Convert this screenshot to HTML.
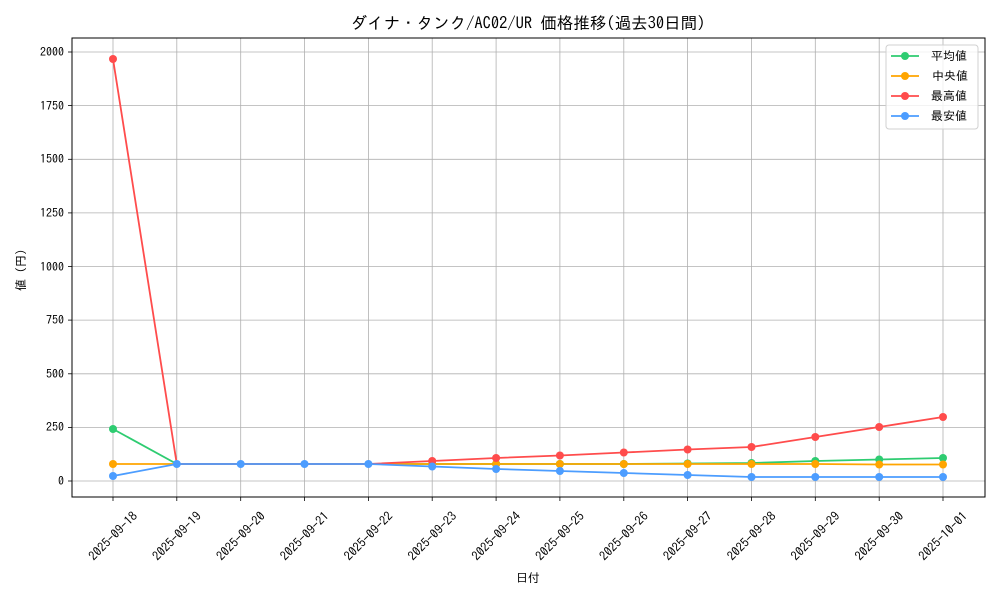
<!DOCTYPE html><html><head><meta charset="utf-8"><style>body{margin:0;background:#fff}svg text{font-family:"IPAGothic","Noto Sans CJK JP",sans-serif;fill:#000}</style></head><body>
<svg width="1000" height="600" xmlns="http://www.w3.org/2000/svg">
<rect width="1000" height="600" fill="#fff"/>
<g stroke="#b0b0b0" stroke-width="0.8">
<line x1="72" x2="985" y1="481" y2="481"/><line x1="72" x2="985" y1="427.4" y2="427.4"/><line x1="72" x2="985" y1="373.8" y2="373.8"/><line x1="72" x2="985" y1="320.1" y2="320.1"/><line x1="72" x2="985" y1="266.5" y2="266.5"/><line x1="72" x2="985" y1="212.9" y2="212.9"/><line x1="72" x2="985" y1="159.3" y2="159.3"/><line x1="72" x2="985" y1="105.6" y2="105.6"/><line x1="72" x2="985" y1="52" y2="52"/>
<line x1="113" x2="113" y1="38" y2="497"/><line x1="176.8" x2="176.8" y1="38" y2="497"/><line x1="240.7" x2="240.7" y1="38" y2="497"/><line x1="304.5" x2="304.5" y1="38" y2="497"/><line x1="368.4" x2="368.4" y1="38" y2="497"/><line x1="432.2" x2="432.2" y1="38" y2="497"/><line x1="496.1" x2="496.1" y1="38" y2="497"/><line x1="559.9" x2="559.9" y1="38" y2="497"/><line x1="623.8" x2="623.8" y1="38" y2="497"/><line x1="687.6" x2="687.6" y1="38" y2="497"/><line x1="751.5" x2="751.5" y1="38" y2="497"/><line x1="815.3" x2="815.3" y1="38" y2="497"/><line x1="879.2" x2="879.2" y1="38" y2="497"/><line x1="943" x2="943" y1="38" y2="497"/>
</g>
<rect x="72" y="38" width="913" height="459" fill="none" stroke="#000" stroke-width="1"/>
<g stroke="#000" stroke-width="0.8">
<line x1="68" x2="72" y1="481" y2="481"/><line x1="68" x2="72" y1="427.4" y2="427.4"/><line x1="68" x2="72" y1="373.8" y2="373.8"/><line x1="68" x2="72" y1="320.1" y2="320.1"/><line x1="68" x2="72" y1="266.5" y2="266.5"/><line x1="68" x2="72" y1="212.9" y2="212.9"/><line x1="68" x2="72" y1="159.3" y2="159.3"/><line x1="68" x2="72" y1="105.6" y2="105.6"/><line x1="68" x2="72" y1="52" y2="52"/>
<line x1="113" x2="113" y1="497" y2="501"/><line x1="176.8" x2="176.8" y1="497" y2="501"/><line x1="240.7" x2="240.7" y1="497" y2="501"/><line x1="304.5" x2="304.5" y1="497" y2="501"/><line x1="368.4" x2="368.4" y1="497" y2="501"/><line x1="432.2" x2="432.2" y1="497" y2="501"/><line x1="496.1" x2="496.1" y1="497" y2="501"/><line x1="559.9" x2="559.9" y1="497" y2="501"/><line x1="623.8" x2="623.8" y1="497" y2="501"/><line x1="687.6" x2="687.6" y1="497" y2="501"/><line x1="751.5" x2="751.5" y1="497" y2="501"/><line x1="815.3" x2="815.3" y1="497" y2="501"/><line x1="879.2" x2="879.2" y1="497" y2="501"/><line x1="943" x2="943" y1="497" y2="501"/>
</g>
<g font-size="12" text-anchor="end">
<text x="64" y="485">0</text><text x="64" y="431">250</text><text x="64" y="378">500</text><text x="64" y="324">750</text><text x="64" y="271">1000</text><text x="64" y="217">1250</text><text x="64" y="163">1500</text><text x="64" y="110">1750</text><text x="64" y="56">2000</text>
</g>
<g font-size="12.5" text-anchor="middle">
<text transform="translate(113,536) rotate(-45)" dy="0.35em">2025-09-18</text>
<text transform="translate(176.8,536) rotate(-45)" dy="0.35em">2025-09-19</text>
<text transform="translate(240.7,536) rotate(-45)" dy="0.35em">2025-09-20</text>
<text transform="translate(304.5,536) rotate(-45)" dy="0.35em">2025-09-21</text>
<text transform="translate(368.4,536) rotate(-45)" dy="0.35em">2025-09-22</text>
<text transform="translate(432.2,536) rotate(-45)" dy="0.35em">2025-09-23</text>
<text transform="translate(496.1,536) rotate(-45)" dy="0.35em">2025-09-24</text>
<text transform="translate(559.9,536) rotate(-45)" dy="0.35em">2025-09-25</text>
<text transform="translate(623.8,536) rotate(-45)" dy="0.35em">2025-09-26</text>
<text transform="translate(687.6,536) rotate(-45)" dy="0.35em">2025-09-27</text>
<text transform="translate(751.5,536) rotate(-45)" dy="0.35em">2025-09-28</text>
<text transform="translate(815.3,536) rotate(-45)" dy="0.35em">2025-09-29</text>
<text transform="translate(879.2,536) rotate(-45)" dy="0.35em">2025-09-30</text>
<text transform="translate(943,536) rotate(-45)" dy="0.35em">2025-10-01</text>
</g>
<text x="528" y="582" font-size="12" text-anchor="middle">日付</text>
<text transform="translate(25,270) rotate(-90)" font-size="12" text-anchor="middle">値 (円)</text>
<text x="528" y="29" font-size="16.5" text-anchor="middle">ダイナ・タンク/AC02/UR 価格推移(過去30日間)</text>
<g fill="none" stroke-width="1.8">
<polyline stroke="#2ecc71" points="113,429 176.8,464 240.7,464 304.5,464 368.4,464 432.2,464 496.1,464 559.9,464 623.8,464 687.6,463.5 751.5,463 815.3,461 879.2,459.5 943,458"/>
<polyline stroke="#ffa500" points="113,464 176.8,464 240.7,464 304.5,464 368.4,464 432.2,464 496.1,464 559.9,464 623.8,464 687.6,464 751.5,464 815.3,464 879.2,464.5 943,464.5"/>
<polyline stroke="#ff4c4c" points="113,59 176.8,464 240.7,464 304.5,464 368.4,464 432.2,461 496.1,458 559.9,455.5 623.8,452.5 687.6,449.5 751.5,447 815.3,437 879.2,427 943,417"/>
<polyline stroke="#4c9dff" points="113,476 176.8,464 240.7,464 304.5,464 368.4,464 432.2,466.5 496.1,469 559.9,471 623.8,473 687.6,475 751.5,477 815.3,477 879.2,477 943,477"/>
</g>
<g fill="#2ecc71"><circle cx="113" cy="429" r="4"/><circle cx="687.6" cy="463.5" r="4"/><circle cx="751.5" cy="463" r="4"/><circle cx="815.3" cy="461" r="4"/><circle cx="879.2" cy="459.5" r="4"/><circle cx="943" cy="458" r="4"/><circle cx="432.2" cy="464" r="4"/><circle cx="496.1" cy="464" r="4"/><circle cx="559.9" cy="464" r="4"/><circle cx="623.8" cy="464" r="4"/></g>
<g fill="#ffa500"><circle cx="113" cy="464" r="4"/><circle cx="432.2" cy="464" r="4"/><circle cx="496.1" cy="464" r="4"/><circle cx="559.9" cy="464" r="4"/><circle cx="623.8" cy="464" r="4"/><circle cx="687.6" cy="464" r="4"/><circle cx="751.5" cy="464" r="4"/><circle cx="815.3" cy="464" r="4"/><circle cx="879.2" cy="464.5" r="4"/><circle cx="943" cy="464.5" r="4"/></g>
<g fill="#ff4c4c"><circle cx="113" cy="59" r="4"/><circle cx="432.2" cy="461" r="4"/><circle cx="496.1" cy="458" r="4"/><circle cx="559.9" cy="455.5" r="4"/><circle cx="623.8" cy="452.5" r="4"/><circle cx="687.6" cy="449.5" r="4"/><circle cx="751.5" cy="447" r="4"/><circle cx="815.3" cy="437" r="4"/><circle cx="879.2" cy="427" r="4"/><circle cx="943" cy="417" r="4"/></g>
<g fill="#4c9dff"><circle cx="113" cy="476" r="4"/><circle cx="176.8" cy="464" r="4"/><circle cx="240.7" cy="464" r="4"/><circle cx="304.5" cy="464" r="4"/><circle cx="368.4" cy="464" r="4"/><circle cx="432.2" cy="466.5" r="4"/><circle cx="496.1" cy="469" r="4"/><circle cx="559.9" cy="471" r="4"/><circle cx="623.8" cy="473" r="4"/><circle cx="687.6" cy="475" r="4"/><circle cx="751.5" cy="477" r="4"/><circle cx="815.3" cy="477" r="4"/><circle cx="879.2" cy="477" r="4"/><circle cx="943" cy="477" r="4"/></g>
<rect x="886" y="45" width="92" height="84" rx="3" fill="#fff" fill-opacity="0.8" stroke="#d0d0d0"/>
<g stroke-width="1.8">
<line x1="891" x2="919" y1="56" y2="56" stroke="#2ecc71"/><circle cx="905" cy="56" r="4" fill="#2ecc71"/>
<line x1="891" x2="919" y1="76" y2="76" stroke="#ffa500"/><circle cx="905" cy="76" r="4" fill="#ffa500"/>
<line x1="891" x2="919" y1="96" y2="96" stroke="#ff4c4c"/><circle cx="905" cy="96" r="4" fill="#ff4c4c"/>
<line x1="891" x2="919" y1="116" y2="116" stroke="#4c9dff"/><circle cx="905" cy="116" r="4" fill="#4c9dff"/>
</g>
<g font-size="12"><text x="931" y="60">平均値</text><text x="932" y="80">中央値</text><text x="931" y="100">最高値</text><text x="931" y="120">最安値</text></g>
</svg></body></html>
